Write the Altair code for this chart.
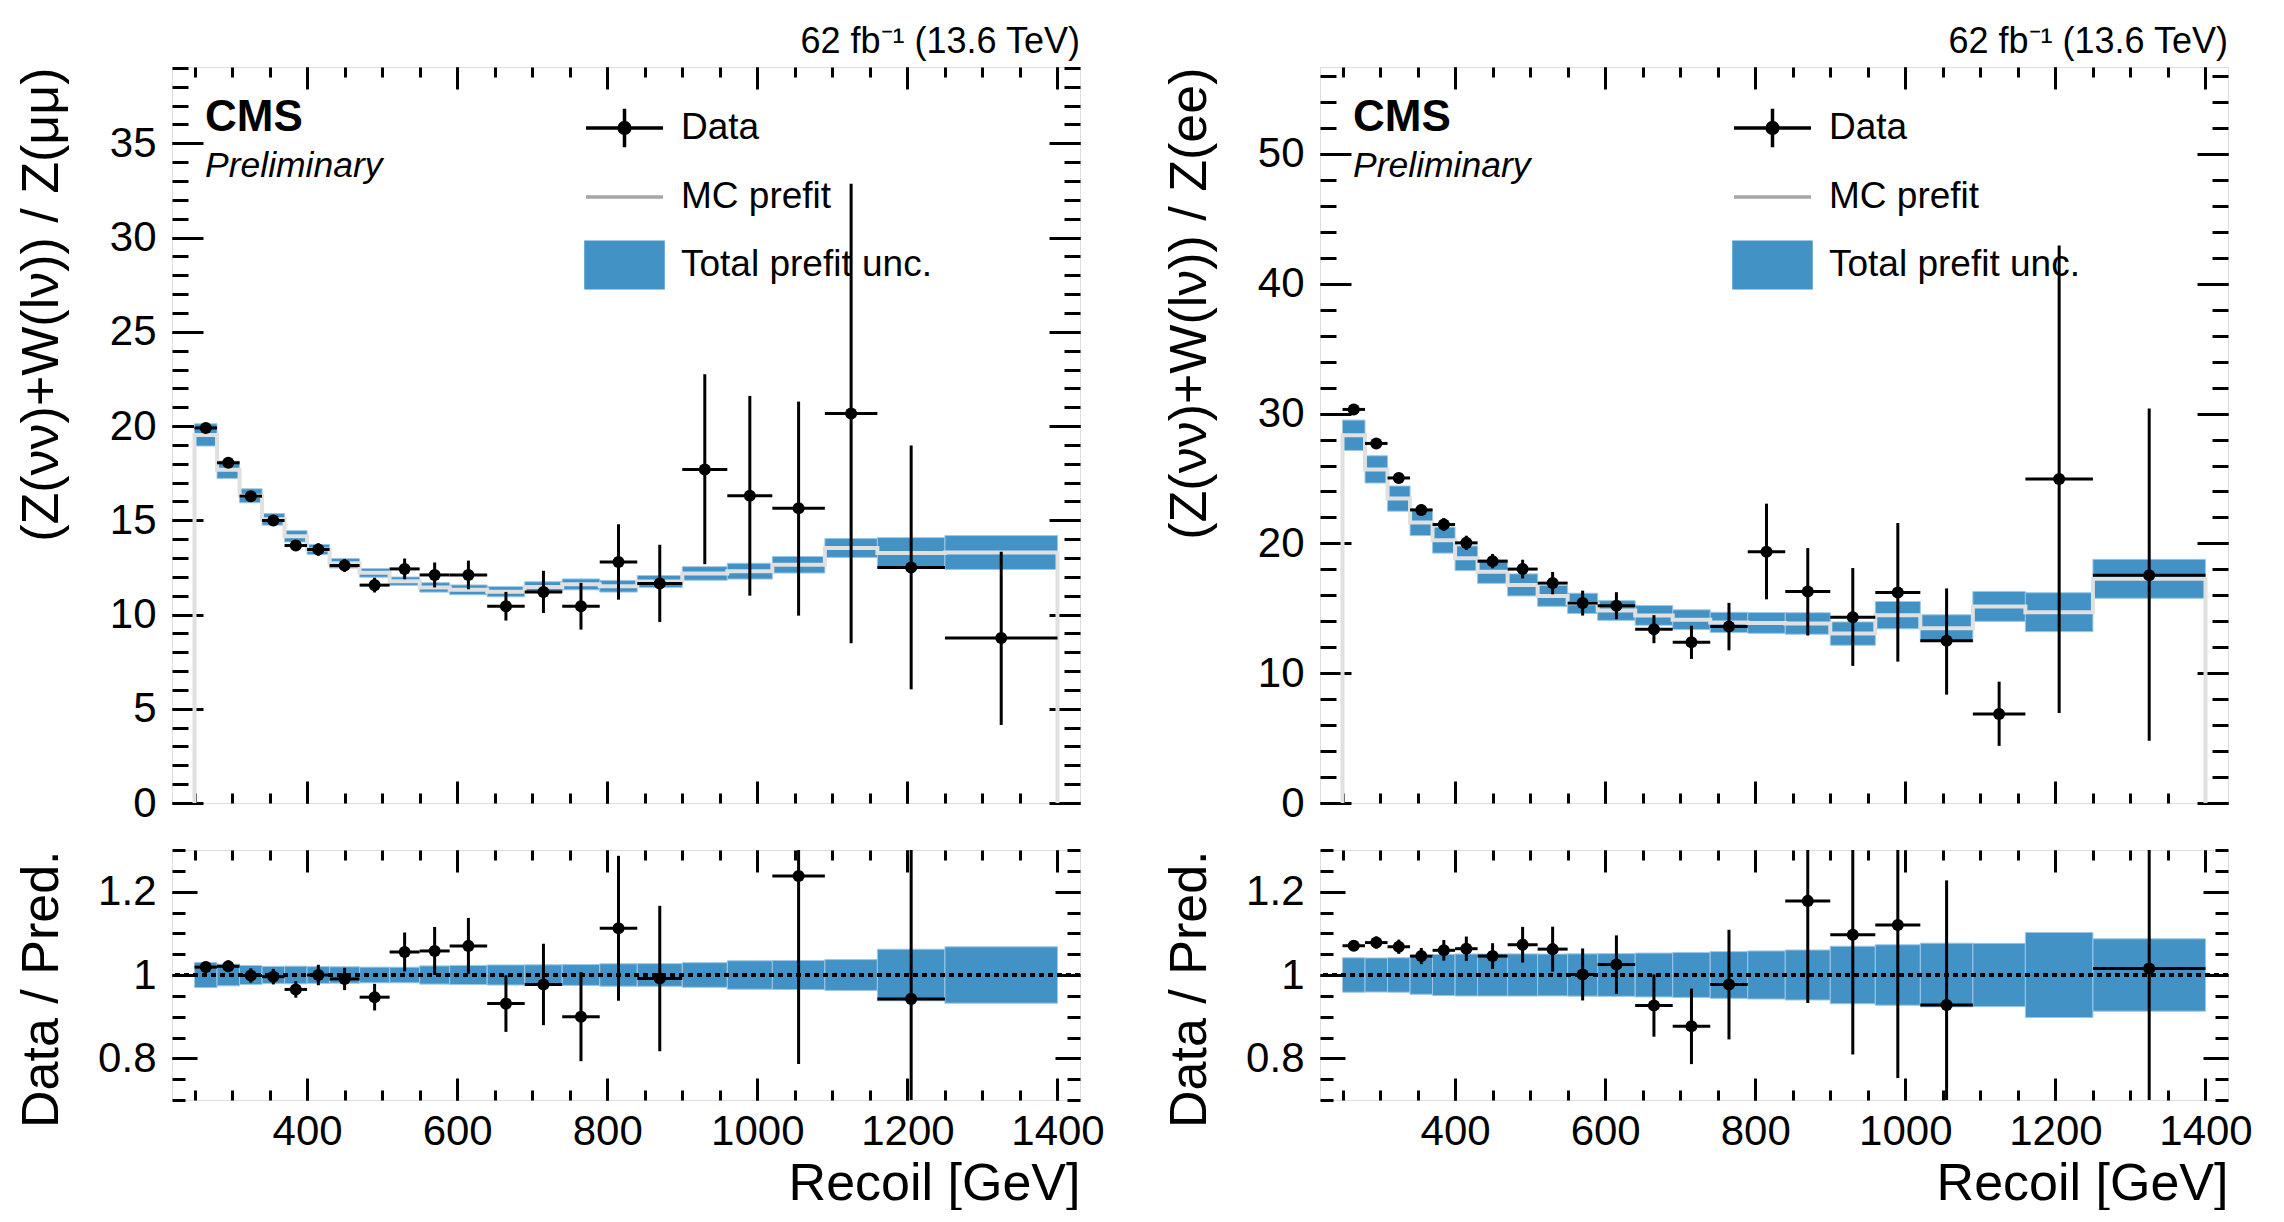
import altair as alt
import pandas as pd

FONT = "Liberation Sans"
BLUE = "#4292c6"
BAND_EDGE = "#9cc7e6"
MC_LINE = "#e0e0e0"
MC_LEG = "#a6a6a6"

# ---------------- data ----------------
bin_edges = [250, 280, 310, 340, 370, 400, 430, 470, 510, 550, 590, 640,
             690, 740, 790, 840, 900, 960, 1020, 1090, 1160, 1250, 1400]

# Z(mumu) control region
mumu_data = [19.9, 18.05, 16.28, 14.99, 13.66, 13.45, 12.6, 11.56, 12.42, 12.1, 12.1,
             10.44, 11.2, 10.44, 12.79, 11.65, 17.69, 16.3, 15.64, 20.67, 12.5, 8.75]
mumu_err_up = [0.25, 0.25, 0.28, 0.28, 0.28, 0.33, 0.34, 0.39, 0.55, 0.66, 0.76,
               0.76, 1.12, 1.24, 2.0, 2.05, 5.06, 5.3, 5.66, 12.19, 6.47, 4.58]
mumu_err_dn = [0.25, 0.25, 0.28, 0.28, 0.28, 0.33, 0.34, 0.39, 0.55, 0.66, 0.76,
               0.76, 1.12, 1.24, 2.0, 2.05, 5.02, 5.3, 5.7, 12.2, 6.47, 4.61]
mumu_mc = [19.53, 17.68, 16.3, 15.05, 14.15, 13.45, 12.72, 12.21, 11.77, 11.44, 11.31,
           11.21, 11.46, 11.6, 11.5, 11.75, 12.18, 12.3, 12.64, 13.53, 13.26, 13.29]
mumu_unc = [0.59, 0.46, 0.37, 0.31, 0.3, 0.27, 0.25, 0.23, 0.22, 0.25, 0.26,
            0.27, 0.28, 0.29, 0.31, 0.32, 0.36, 0.42, 0.44, 0.5, 0.82, 0.9]

# Z(ee) control region
ee_data = [30.32, 27.7, 25.04, 22.58, 21.45, 20.04, 18.63, 18.02, 16.94, 15.4, 15.2,
           13.39, 12.38, 13.59, 19.35, 16.29, 14.31, 16.21, 12.5, 6.85, 24.96, 17.54]
ee_err_up = [0.35, 0.38, 0.4, 0.42, 0.5, 0.55, 0.55, 0.72, 0.86, 0.96, 1.04,
             1.08, 1.28, 1.83, 3.71, 3.35, 3.79, 5.36, 4.03, 2.5, 17.98, 12.86]
ee_err_dn = [0.35, 0.38, 0.4, 0.42, 0.5, 0.55, 0.55, 0.72, 0.86, 0.96, 1.04,
             1.08, 1.28, 1.83, 3.66, 3.39, 3.75, 5.32, 4.15, 2.45, 18.02, 12.74]
ee_mc = [28.33, 25.7, 23.45, 21.6, 20.25, 18.85, 17.82, 16.8, 15.95, 15.38, 14.83,
         14.45, 14.12, 13.91, 13.87, 13.83, 13.05, 14.47, 13.47, 15.14, 14.7, 17.27]
ee_unc = [1.17, 1.05, 0.97, 1.0, 1.0, 0.95, 0.9, 0.85, 0.8, 0.78, 0.76,
          0.76, 0.76, 0.78, 0.8, 0.83, 0.9, 1.05, 1.03, 1.15, 1.5, 1.5]

legend_entries = ["Data", "MC prefit", "Total prefit unc."]
lumi_text = "62 fb\u207b\u00b9 (13.6 TeV)"

# tick positions
x_major = [400, 600, 800, 1000, 1200, 1400]
x_minor = list(range(250, 1401, 50))
mumu_y_major = [0, 5, 10, 15, 20, 25, 30, 35]
mumu_y_minor = list(range(0, 40))
ee_y_major = [0, 10, 20, 30, 40, 50]
ee_y_minor = list(range(0, 57, 2))
ratio_major = [0.8, 1.0, 1.2]
ratio_minor = [0.7, 0.75, 0.8, 0.85, 0.9, 0.95, 1.0, 1.05, 1.1, 1.15, 1.2, 1.25, 1.3]

X_DOMAIN = [220, 1430]
MUMU_YMAX = 39.05
EE_YMAX = 56.7
RATIO_DOMAIN = [0.7, 1.3]

W = 908
H_MAIN = 736
H_RATIO = 250
TITLE_GAP = 115  # y-title baseline distance left of the frame


# ---------------- helpers ----------------
def make_frame(data, eu, ed, mc, unc):
    df = pd.DataFrame({"lo": bin_edges[:-1], "hi": bin_edges[1:], "d": data,
                       "eu": eu, "ed": ed, "mc": mc, "unc": unc})
    df["c"] = (df["lo"] + df["hi"]) / 2
    df["up"] = df["d"] + df["eu"]
    df["dn"] = df["d"] - df["ed"]
    df["mclo"] = df["mc"] - df["unc"]
    df["mchi"] = df["mc"] + df["unc"]
    df["r"] = df["d"] / df["mc"]
    df["rup"] = df["up"] / df["mc"]
    df["rdn"] = df["dn"] / df["mc"]
    df["rlo"] = 1 - df["unc"] / df["mc"]
    df["rhi"] = 1 + df["unc"] / df["mc"]
    return df


def make_step(mc):
    xs = [bin_edges[0]] + bin_edges[:-1] + [bin_edges[-1], bin_edges[-1]]
    ys = [0.0] + list(mc) + [mc[-1], 0.0]
    return pd.DataFrame({"x": xs, "y": ys, "i": list(range(len(xs)))})


def axis(orient, values, size, labels=False, fmt=None, label_pad=0,
         title=None, title_x=None, title_y=None):
    kw = dict(orient=orient, values=values, tickSize=size, offset=-size,
              domain=False, grid=False, ticks=True, tickColor="black",
              tickWidth=3, labels=labels, title=title)
    if labels:
        kw.update(labelFont=FONT, labelFontSize=42, labelColor="black",
                  labelPadding=label_pad, labelFlush=False, labelOverlap=False,
                  format=fmt)
    if title is not None:
        vertical = orient in ("left", "right")
        kw.update(titleFont=FONT, titleFontSize=52, titleFontWeight="normal",
                  titleColor="black", titleAngle=270 if vertical else 0,
                  titleAlign="right", titleBaseline="alphabetic",
                  titleX=title_x, titleY=title_y)
    return alt.Axis(**kw)


SYM_SIZE = 5929  # 77 px wide symbols
DATA_PATH = ("M-1,0L1,0M0,-0.5L0,0.5M0.14,0A0.14,0.14,0,1,1,-0.14,0"
             "A0.14,0.14,0,1,1,0.14,0Z")
LINE_PATH = "M-1,0L1,0"
RECT_PATH = "M-1,-0.59L1,-0.59L1,0.59L-1,0.59Z"
legend_colors = ["black", MC_LEG, BLUE]
legend_shapes = [DATA_PATH, LINE_PATH, RECT_PATH]
legend_centers = [59, 128, 196]  # px below frame top


def legend_layer(i):
    name = legend_entries[i]
    leg = alt.Legend(orient="none", legendX=412, legendY=legend_centers[i] - 38.5,
                     title=None, symbolSize=SYM_SIZE, symbolStrokeWidth=3.5,
                     symbolOpacity=1, labelFont=FONT, labelFontSize=37,
                     labelColor="black", labelOffset=16, labelLimit=500, padding=0)
    col = alt.Scale(domain=[name], range=[legend_colors[i]])
    return alt.Chart(pd.DataFrame({"series": [name]})).mark_point(filled=True).encode(
        x=alt.value(0), y=alt.value(0),
        fill=alt.Fill("series:N", legend=leg, scale=col),
        stroke=alt.Stroke("series:N", legend=leg, scale=col),
        shape=alt.Shape("series:N", legend=leg,
                        scale=alt.Scale(domain=[name], range=[legend_shapes[i]])),
    ).transform_filter("datum.series == 'none'")


def main_panel(df, step, ymax, y_major, y_minor, ytitle):
    xs = alt.Scale(domain=X_DOMAIN, nice=False, zero=False)
    ys = alt.Scale(domain=[0, ymax], nice=False, zero=False)
    base = alt.Chart(df)

    band = base.mark_rect(color=BLUE, stroke=BAND_EDGE, strokeWidth=1).encode(
        x=alt.X("lo:Q", scale=xs, axis=axis("bottom", x_major, 22)),
        x2="hi:Q",
        y=alt.Y("mclo:Q", scale=ys,
                axis=axis("left", y_major, 31, labels=True, fmt="d", label_pad=16,
                          title=ytitle, title_x=-(TITLE_GAP + 31), title_y=0)),
        y2="mchi:Q",
    )
    mcline = alt.Chart(step).mark_line(color=MC_LINE, strokeWidth=4,
                                       interpolate="step-after").encode(
        x=alt.X("x:Q", scale=xs, axis=axis("bottom", x_minor, 10)),
        y=alt.Y("y:Q", scale=ys, axis=axis("left", y_minor, 16)),
        order="i:Q",
    )
    verr = base.mark_rule(color="black", strokeWidth=3).encode(
        x=alt.X("c:Q", scale=xs, axis=axis("top", x_major, 22)),
        y=alt.Y("dn:Q", scale=ys, axis=axis("right", y_major, 31)),
        y2="up:Q",
    )
    herr = base.mark_rule(color="black", strokeWidth=3).encode(
        x=alt.X("lo:Q", scale=xs, axis=axis("top", x_minor, 10)),
        x2="hi:Q",
        y=alt.Y("d:Q", scale=ys, axis=axis("right", y_minor, 16)),
    )
    pts = base.mark_circle(color="black", size=145, opacity=1).encode(
        x=alt.X("c:Q", scale=xs, axis=None),
        y=alt.Y("d:Q", scale=ys, axis=None),
    )
    cms = alt.Chart(pd.DataFrame({"t": ["CMS"]})).mark_text(
        align="left", baseline="alphabetic", font=FONT, fontSize=44,
        fontWeight="bold", color="black").encode(
        x=alt.value(33), y=alt.value(64), text="t:N")
    prelim = alt.Chart(pd.DataFrame({"t": ["Preliminary"]})).mark_text(
        align="left", baseline="alphabetic", font=FONT, fontSize=35.5,
        fontStyle="italic", color="black").encode(
        x=alt.value(33), y=alt.value(110), text="t:N")
    lumi = alt.Chart(pd.DataFrame({"t": [lumi_text]})).mark_text(
        align="right", baseline="alphabetic", font=FONT, fontSize=36,
        color="black").encode(
        x=alt.value(W), y=alt.value(-14), text="t:N")

    layers = [band, mcline, verr, herr, pts, cms, prelim, lumi] + \
        [legend_layer(i) for i in range(3)]
    return alt.layer(*layers).resolve_axis(
        x="independent", y="independent"
    ).resolve_scale(fill="independent", stroke="independent", shape="independent"
    ).resolve_legend(fill="independent", stroke="independent", shape="independent"
    ).properties(width=W, height=H_MAIN)


def ratio_panel(df):
    xs = alt.Scale(domain=X_DOMAIN, nice=False, zero=False)
    ys = alt.Scale(domain=RATIO_DOMAIN, nice=False, zero=False)
    base = alt.Chart(df)
    # points whose central ratio lies outside the panel are not drawn
    shown = base.transform_filter(
        f"datum.r >= {RATIO_DOMAIN[0]} && datum.r <= {RATIO_DOMAIN[1]}")

    band = base.mark_rect(color=BLUE, stroke=BAND_EDGE, strokeWidth=1).encode(
        x=alt.X("lo:Q", scale=xs,
                axis=axis("bottom", x_major, 22, labels=True, fmt="d", label_pad=11,
                          title="Recoil [GeV]", title_x=W, title_y=121)),
        x2="hi:Q",
        y=alt.Y("rlo:Q", scale=ys,
                axis=axis("left", ratio_major, 25, labels=True, fmt="~g", label_pad=16,
                          title="Data / Pred.", title_x=-(TITLE_GAP + 25), title_y=0)),
        y2="rhi:Q",
    )
    one = alt.Chart(pd.DataFrame({"one": [1.0]})).mark_rule(
        color="black", strokeWidth=4, strokeDash=[5, 4]).encode(
        y=alt.Y("one:Q", scale=ys, axis=None))
    verr = shown.mark_rule(color="black", strokeWidth=3, clip=True).encode(
        x=alt.X("c:Q", scale=xs, axis=axis("bottom", x_minor, 10)),
        y=alt.Y("rdn:Q", scale=ys, axis=axis("left", ratio_minor, 13)),
        y2="rup:Q",
    )
    herr = shown.mark_rule(color="black", strokeWidth=3, clip=True).encode(
        x=alt.X("lo:Q", scale=xs, axis=axis("top", x_major, 22)),
        x2="hi:Q",
        y=alt.Y("r:Q", scale=ys, axis=axis("right", ratio_major, 25)),
    )
    pts = shown.mark_circle(color="black", size=145, opacity=1, clip=True).encode(
        x=alt.X("c:Q", scale=xs, axis=axis("top", x_minor, 10)),
        y=alt.Y("r:Q", scale=ys, axis=axis("right", ratio_minor, 13)),
    )
    return alt.layer(band, one, verr, herr, pts).resolve_axis(
        x="independent", y="independent").properties(width=W, height=H_RATIO)


df_mumu = make_frame(mumu_data, mumu_err_up, mumu_err_dn, mumu_mc, mumu_unc)
df_ee = make_frame(ee_data, ee_err_up, ee_err_dn, ee_mc, ee_unc)

IND = dict(fill="independent", stroke="independent", shape="independent")

left = alt.vconcat(
    main_panel(df_mumu, make_step(mumu_mc), MUMU_YMAX, mumu_y_major, mumu_y_minor,
               "(Z(\u03bd\u03bd)+W(l\u03bd)) / Z(\u03bc\u03bc)"),
    ratio_panel(df_mumu), spacing=47, bounds="flush",
).resolve_scale(**IND).resolve_legend(**IND)

right = alt.vconcat(
    main_panel(df_ee, make_step(ee_mc), EE_YMAX, ee_y_major, ee_y_minor,
               "(Z(\u03bd\u03bd)+W(l\u03bd)) / Z(ee)"),
    ratio_panel(df_ee), spacing=47, bounds="flush",
).resolve_scale(**IND).resolve_legend(**IND)

chart = alt.hconcat(left, right, spacing=1148, bounds="flush"
).resolve_scale(**IND).resolve_legend(**IND
).properties(padding={"left": 6, "top": 15, "right": 5, "bottom": 0}
).configure_view(stroke="black", strokeWidth=3).configure(background="white")

chart.save("out.html", embed_options={"renderer": "svg", "actions": False})
